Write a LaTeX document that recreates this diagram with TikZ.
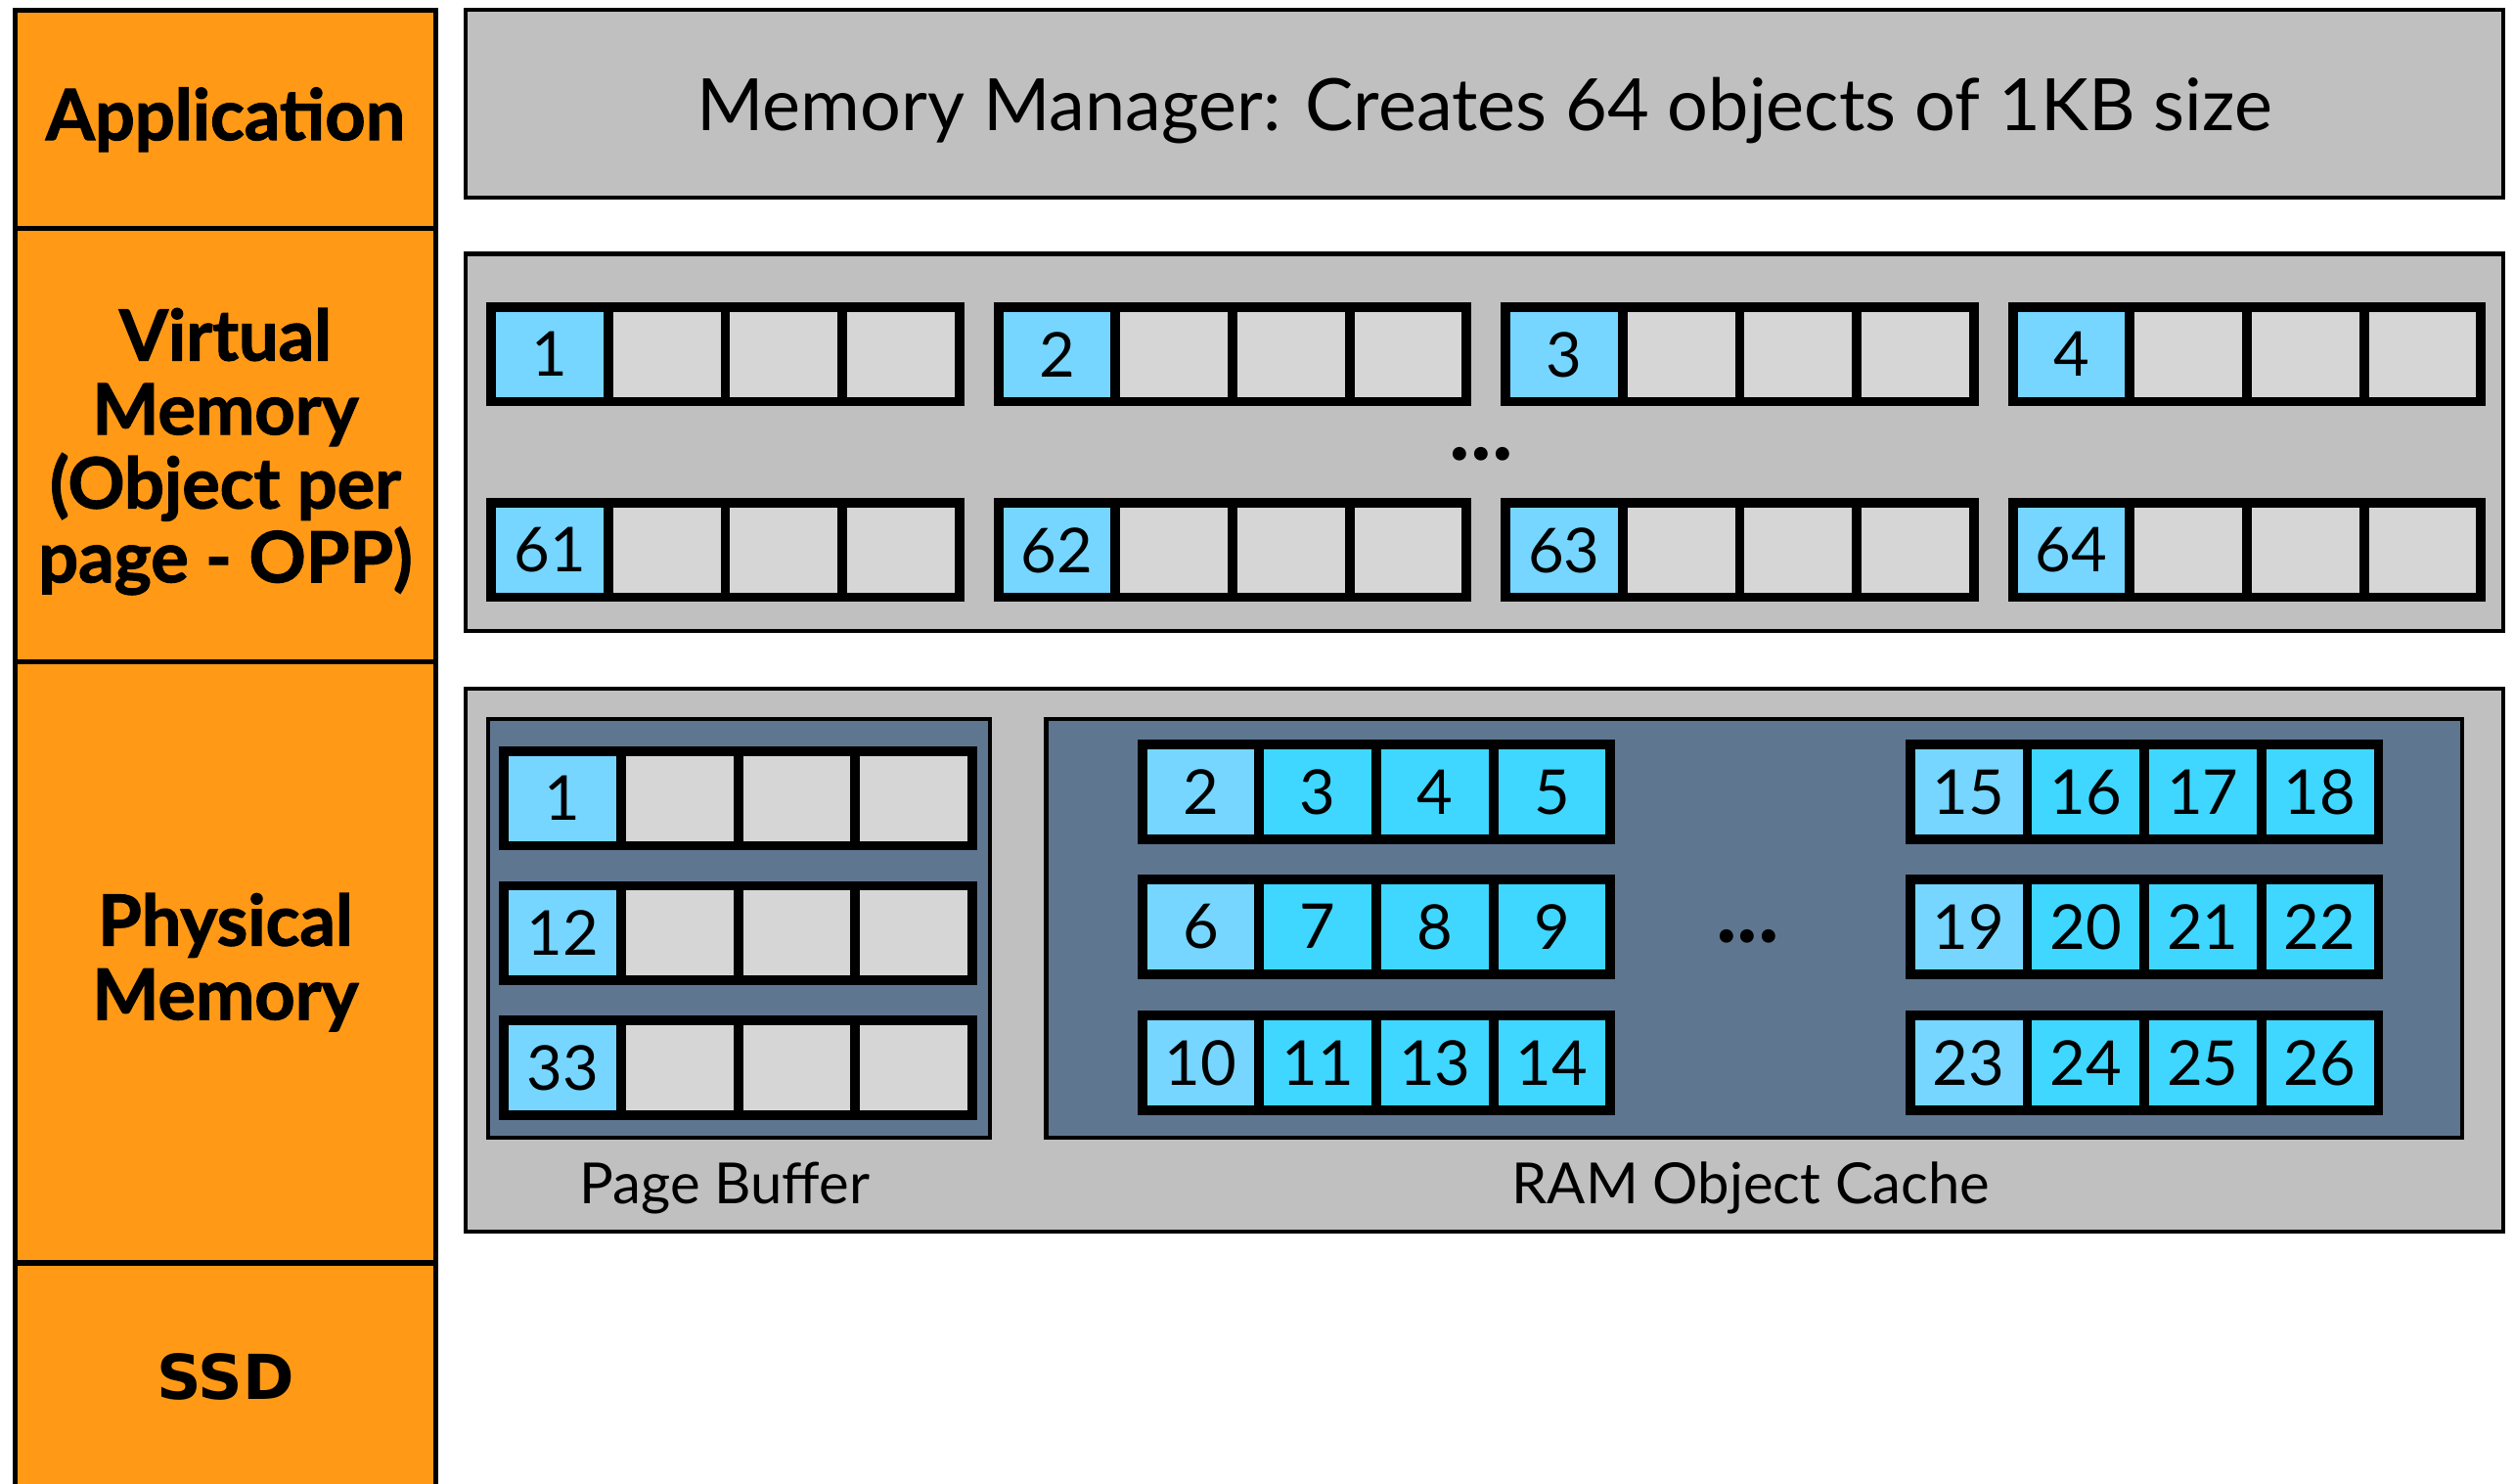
\documentclass[tikz,border=0pt]{standalone}
\usepackage{fontspec}
\setmainfont{Lato}
\newfontfamily\layfont[BoldFeatures={FakeBold=1.6}]{Lato}
\newfontfamily\ssdfont{DejaVu Sans}
\newlength\pxu
\setlength{\pxu}{0.46634pt}
\definecolor{laybg}{HTML}{FF9916}
\definecolor{boxgray}{HTML}{C0C0C0}
\definecolor{cellgray}{HTML}{D6D6D6}
\definecolor{vmblue}{HTML}{76D6FF}
\definecolor{ramblue}{HTML}{3FD7FF}
\definecolor{slate}{HTML}{5F7691}
\tikzset{
  lay/.style={rectangle, draw=black, line width=1.5pt, fill=laybg, inner sep=0pt,
    anchor=north west, minimum width=262*\pxu, align=center,
    font=\layfont\bfseries\fontsize{20.5}{21.5}\selectfont},
  graybox/.style={rectangle, draw=black, line width=1.2pt, fill=boxgray, inner sep=0pt,
    anchor=north west, minimum width=1271*\pxu},
  darkbox/.style={rectangle, draw=black, line width=1.3pt, fill=slate, inner sep=0pt,
    anchor=north west},
  grpbox/.style={rectangle, fill=black, inner sep=0pt, anchor=north west,
    minimum width=298*\pxu, minimum height=65*\pxu},
  cellbox/.style={rectangle, inner sep=0pt, anchor=north west,
    minimum width=67*\pxu, minimum height=53*\pxu, font=\fontsize{18}{20}\selectfont,
    text depth=-1pt},
  vmcell/.style={fill=vmblue},
  emptycell/.style={fill=cellgray},
  ramcell/.style={fill=ramblue},
  lbl/.style={font=\fontsize{16.5}{18}\selectfont, inner sep=0pt},
  dots/.style={font=\bfseries\fontsize{26}{28}\selectfont, inner sep=0pt}
}
\newcommand\grp[9]{%
  \node[grpbox] (#1) at (#2,#3) {};
  \node[cellbox,#4] (#1-1) at (#2+6,#3+6) {#6};
  \node[cellbox,#5] (#1-2) at (#2+79,#3+6) {#7};
  \node[cellbox,#5] (#1-3) at (#2+152,#3+6) {#8};
  \node[cellbox,#5] (#1-4) at (#2+225,#3+6) {#9};
}
\begin{document}
\begin{tikzpicture}[x=0.016390cm, y=-0.016390cm]
\useasboundingbox (0,0) rectangle (1568,925);
% layer column
\node[lay, minimum height=136*\pxu] (app) at (8,5) {Application};
\node[lay, minimum height=270*\pxu, text depth=-3pt] (vmem) at (8,141) {Virtual\\Memory\\(Object per\\page - OPP)};
\node[lay, minimum height=375*\pxu] (pmem) at (8,411) {Physical\\Memory};
\node[lay, minimum height=142*\pxu, font=\ssdfont\bfseries\fontsize{18}{20}\selectfont] (ssd) at (8,786) {SSD};
% application
\node[graybox, minimum height=117*\pxu, font=\fontsize{21}{24}\selectfont, text depth=-2pt] (mm) at (289,5) {Memory Manager: Creates 64 objects of 1KB size};
% virtual memory
\node[graybox, minimum height=235*\pxu] (vmbox) at (289,157) {};
\grp{v1}{303}{188}{vmcell}{emptycell}{1}{}{}{}
\grp{v2}{619.3}{188}{vmcell}{emptycell}{2}{}{}{}
\grp{v3}{935.6}{188}{vmcell}{emptycell}{3}{}{}{}
\grp{v4}{1252}{188}{vmcell}{emptycell}{4}{}{}{}
\grp{v61}{303}{310}{vmcell}{emptycell}{61}{}{}{}
\grp{v62}{619.3}{310}{vmcell}{emptycell}{62}{}{}{}
\grp{v63}{935.6}{310}{vmcell}{emptycell}{63}{}{}{}
\grp{v64}{1252}{310}{vmcell}{emptycell}{64}{}{}{}
\node[dots] (vdots) at (924,283) {...};
% physical memory
\node[graybox, minimum height=339*\pxu] (pbox) at (289,428) {};
\node[darkbox, minimum width=313*\pxu, minimum height=261*\pxu] (pb) at (303,447) {};
\node[darkbox, minimum width=883*\pxu, minimum height=261*\pxu] (ram) at (651,447) {};
\grp{p1}{311}{465}{vmcell}{emptycell}{1}{}{}{}
\grp{p12}{311}{549}{vmcell}{emptycell}{12}{}{}{}
\grp{p33}{311}{633}{vmcell}{emptycell}{33}{}{}{}
\grp{r1}{709}{461}{vmcell}{ramcell}{2}{3}{4}{5}
\grp{r2}{709}{545}{vmcell}{ramcell}{6}{7}{8}{9}
\grp{r3}{709}{630}{vmcell}{ramcell}{10}{11}{13}{14}
\grp{r4}{1188}{461}{vmcell}{ramcell}{15}{16}{17}{18}
\grp{r5}{1188}{545}{vmcell}{ramcell}{19}{20}{21}{22}
\grp{r6}{1188}{630}{vmcell}{ramcell}{23}{24}{25}{26}
\node[dots] (rdots) at (1090,584) {...};
\node[lbl] (pblbl) at (452,741) {Page Buffer};
\node[lbl] (ramlbl) at (1092,741) {RAM Object Cache};
\end{tikzpicture}
\end{document}
